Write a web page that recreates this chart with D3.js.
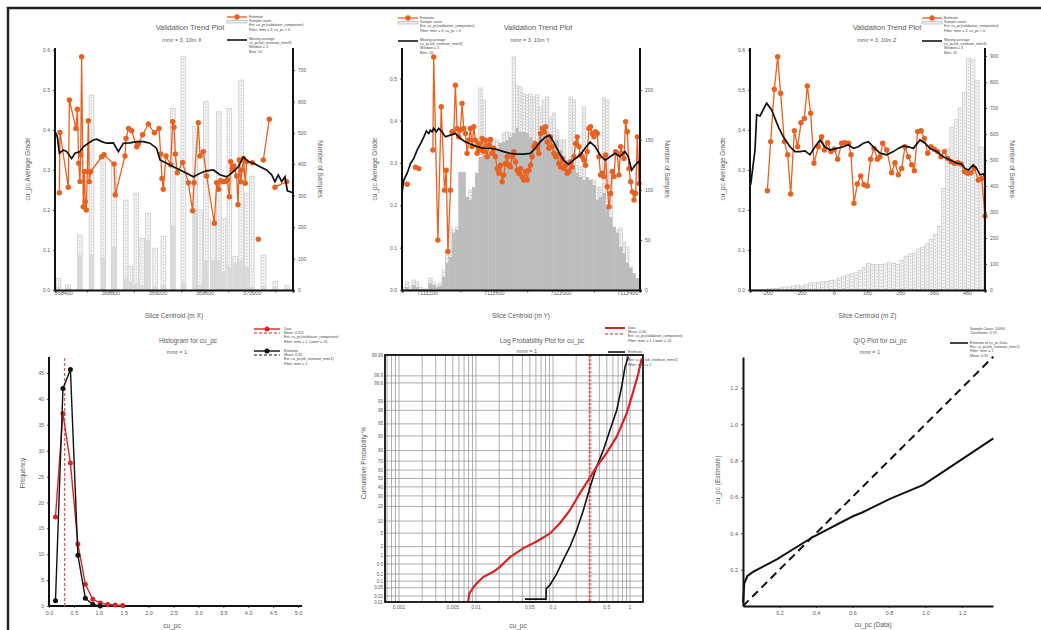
<!DOCTYPE html>
<html>
<head>
<meta charset="utf-8">
<script src="https://cdn.jsdelivr.net/npm/d3@7"></script>
<style>
body { margin: 0; background: #fff; }
svg text { font-family: "Liberation Sans", Arial, sans-serif; }
</style>
</head>
<body>
<script>
// ---- Validation trend, X slices ----
var xSlice = [368367,368372,368443,368452,368508,368520,368531,368542,368548,368556,368570,368579,368587,368596,368604,368613,368621,368633,368726,368746,368831,368842,368924,368933,368955,368981,369023,369037,369074,369122,369173,369213,369227,369238,369249,369272,369312,369329,369340,369351,369368,369413,369462,369498,369510,369546,369561,369589,369617,369682,369702,369719,369736,369753,369775,369793,369810,369821,369835,369849,369872,369883,369894,369906,369917,369931,369945,369957,370005,370030,370056,370077,370098,370149,370173,370197,370296];
var xGrade = [0.243,0.394,0.257,0.475,0.404,0.452,0.317,0.271,0.338,0.583,0.208,0.296,0.221,0.200,0.296,0.423,0.271,0.296,0.333,0.338,0.315,0.238,0.335,0.379,0.404,0.398,0.358,0.365,0.388,0.415,0.393,0.404,0.340,0.279,0.252,0.335,0.313,0.421,0.407,0.340,0.293,0.319,0.268,0.198,0.268,0.418,0.335,0.346,0.285,0.167,0.268,0.252,0.273,0.271,0.271,0.275,0.233,0.321,0.300,0.310,0.285,0.213,0.325,0.271,0.300,0.329,0.267,0.321,0.318,null,0.127,null,0.325,0.427,null,0.257,0.271];
var xMovSlice = [368330,368350,368367,368401,368429,368471,368500,368542,368570,368613,368655,368684,368726,368768,368825,368868,368910,368967,369023,369080,369136,369193,369221,369278,369334,369391,369447,369504,369561,369617,369674,369730,369787,369844,369886,369928,369971,370013,370070,370126,370169,370197,370225,370254,370282,370302,370350];
var xMovGrade = [0.396,0.383,0.342,0.350,0.346,0.329,0.342,0.346,0.358,0.367,0.375,0.377,0.371,0.367,0.368,0.346,0.367,0.368,0.371,0.371,0.367,0.354,0.325,0.317,0.308,0.300,0.292,0.283,0.292,0.298,0.300,0.288,0.283,0.296,0.308,0.332,0.321,0.317,0.308,0.300,0.288,0.271,0.288,0.271,0.283,0.248,0.243];
var xBinCentre = [368360,368440,368540,368640,368740,368830,368930,368970,369020,369070,369120,369180,369250,369330,369420,369520,369560,369610,369670,369720,369760,369810,369860,369910,369960,370000,370100,370200,370300];
var xBinSamples = [37,16,175,620,424,403,286,74,308,164,244,133,170,578,742,520,255,599,223,567,228,578,106,668,308,361,111,27,13];
var xBinEstimate = [11,8,111,111,104,138,37,27,21,16,159,11,16,207,27,255,16,95,95,95,60,75,85,95,75,11,11,11,0];

// ---- Validation trend, Y slices ----
var ySlice = [7111081,7111105,7111131,7111151,7111190,7111235,7111240,7111265,7111285,7111305,7111315,7111325,7111340,
  7111350,7111360,7111370,7111380,7111390,7111400,7111410,7111420,7111430,7111440,7111450,7111460,7111470,7111480,7111490,
  7111500,7111510,7111520,7111530,7111540,7111550,7111560,7111570,7111580,7111590,7111600,7111610,7111620,7111630,7111640,
  7111650,7111660,7111670,7111680,7111690,7111700,7111710,7111720,7111730,7111740,7111750,7111760,7111770,7111780,7111790,
  7111800,7111810,7111820,7111830,7111840,7111850,7111860,7111870,7111880,7111890,7111900,7111910,7111920,7111930,7111940,
  7111950,7111960,7111970,7111980,7111990,7112000,7112010,7112020,7112030,7112040,7112050,7112060,7112070,7112080,7112090,
  7112100,7112110,7112120,7112130,7112140,7112150,7112160,7112170,7112180,7112190,7112200,7112210,7112220,7112230,7112240,
  7112250,7112260,7112270,7112280,7112290,7112300,7112310,7112320,7112330,7112340,7112350,7112360,7112370,7112380,7112390,
  7112400,7112410,7112420,7112430,7112440,7112450,7112460,7112470];
var yGrade = [0.250,null,0.290,0.287,null,0.331,0.551,0.118,0.433,0.236,0.283,0.091,0.236,
  0.374,0.372,0.484,0.382,0.362,0.378,0.441,0.382,0.370,0.323,0.354,0.382,0.339,0.386,0.354,
  0.323,0.346,0.331,0.358,0.327,0.354,0.315,0.343,0.356,0.323,0.335,0.315,0.287,0.276,0.295,
  0.256,0.272,0.299,0.315,0.295,0.291,0.315,0.327,0.303,0.283,0.276,0.287,0.268,0.260,0.280,
  0.260,0.283,0.295,0.315,0.339,0.346,0.335,0.323,0.370,0.382,0.374,0.386,0.350,0.335,0.362,
  0.339,0.323,0.315,0.319,0.299,0.291,0.311,0.287,0.295,0.276,0.280,0.303,0.291,0.315,0.346,
  0.362,0.339,0.319,0.315,0.307,0.295,0.327,0.382,0.386,0.370,0.362,0.374,0.370,0.315,0.272,
  0.276,0.268,0.319,0.244,0.197,0.228,0.280,0.268,0.327,0.323,0.272,0.339,0.323,0.311,0.398,
  0.374,0.287,0.256,0.232,0.213,0.228,0.362,0.252];
var yMovSlice = [7111051,7111061,7111081,7111101,7111121,7111141,7111161,7111181,7111196,7111210,7111220,7111230,7111240,7111256,7111270,7111290,7111310,7111340,7111370,7111400,7111430,7111460,7111499,7111539,7111579,7111619,7111659,7111699,7111739,7111778,7111818,7111848,7111878,7111908,7111934,7111958,7111988,7112018,7112048,7112077,7112117,7112147,7112177,7112207,7112237,7112267,7112297,7112327,7112356,7112386,7112406,7112426,7112446,7112466,7112476];
var yMovGrade = [0.232,0.260,0.276,0.299,0.311,0.331,0.346,0.362,0.376,0.370,0.378,0.374,0.382,0.374,0.382,0.374,0.362,0.366,0.370,0.358,0.350,0.345,0.339,0.335,0.335,0.332,0.327,0.323,0.321,0.321,0.323,0.335,0.350,0.361,0.366,0.350,0.327,0.307,0.297,0.307,0.319,0.335,0.350,0.339,0.319,0.307,0.315,0.323,0.315,0.327,0.315,0.283,0.295,0.303,0.299];
var yBinCentre = [7111060,7111080,7111100,7111120,7111140,7111160,7111180,7111200,7111220,7111240,7111260,7111280,7111300,7111320,7111340,7111360,7111380,7111400,7111420,7111440,7111460,7111480,7111500,7111520,7111540,7111560,7111580,7111600,7111620,7111640,7111660,7111680,7111700,7111720,7111740,7111760,7111780,7111800,7111820,7111840,7111860,7111880,7111900,7111920,7111940,7111960,7111980,7112000,7112020,7112040,7112060,7112080,7112100,7112120,7112140,7112160,7112180,7112200,7112220,7112240,7112260,7112280,7112300,7112320,7112340,7112360,7112380,7112400,7112420,7112440,7112460];
var yBinSamples = [3,8,3,10,8,3,1,1,12,8,5,7,20,37,63,60,63,117,118,93,100,97,117,202,190,143,150,150,150,147,157,158,157,233,204,203,196,195,196,193,195,183,190,193,173,177,160,150,150,127,193,190,130,123,183,108,110,110,103,103,192,190,117,63,60,62,48,43,23,13,8];
var yBinEstimate = [1,3,1,5,3,1,1,1,7,5,3,4,13,27,33,57,60,118,117,93,90,103,117,133,135,138,143,143,142,147,148,150,153,157,162,158,158,157,153,150,147,157,162,158,147,143,150,140,133,130,123,122,117,113,110,113,110,105,90,93,97,83,73,63,57,43,37,27,22,17,12];

// ---- Validation trend, Z slices ----
var zSlice = [-199,-189,-178,-168,-159,-148,-138,-129,-118,-108,-98,-88,-79,-69,-59,-46,-36,-28,-18,-8,2,12,24,34,45,52,61,71,81,91,101,111,121,131,139,147,159,174,184,194,204,214,224,234,242,252,262,272,282,292,302,312,322,332,342,352,362,372,382,392,402,412,422,434,444,454];
var zGrade = [0.248,0.371,0.502,0.583,0.492,0.371,0.338,0.240,0.398,0.358,0.418,0.429,0.510,0.442,0.317,0.358,0.383,0.350,0.368,0.346,0.352,0.327,0.367,0.368,0.367,0.338,0.217,0.265,0.285,0.263,0.260,0.327,0.354,0.327,0.333,0.367,0.350,0.293,0.318,0.288,0.304,0.358,0.333,0.313,0.298,0.396,0.398,0.379,0.342,0.358,0.352,0.346,0.333,0.346,0.329,0.321,0.317,0.318,0.315,0.296,0.292,0.293,0.304,0.275,0.279,0.185];
var zMovSlice = [-249,-236,-231,-221,-201,-186,-166,-151,-131,-116,-101,-86,-71,-56,-41,-26,-11,9,29,44,59,74,89,104,119,139,159,179,194,209,224,239,259,274,289,309,329,349,369,384,394,404,419,429,439,449,454];
var zMovGrade = [0.263,0.350,0.438,0.435,0.467,0.450,0.408,0.383,0.358,0.346,0.346,0.348,0.338,0.358,0.375,0.358,0.350,0.354,0.358,0.363,0.354,0.358,0.367,0.371,0.358,0.342,0.338,0.346,0.354,0.360,0.358,0.354,0.375,0.367,0.354,0.346,0.333,0.325,0.317,0.315,0.304,0.300,0.313,0.304,0.288,0.290,0.283];
var zBinCentre = [-245,-232.5,-220,-207.5,-195,-182.5,-170,-157.5,-145,-132.5,-120,-107.5,-95,-82.5,-70,-57.5,-45,-32.5,-20,-7.5,5,17.5,30,42.5,55,67.5,80,92.5,105,117.5,130,142.5,155,167.5,180,192.5,205,217.5,230,242.5,255,267.5,280,292.5,305,317.5,330,342.5,355,367.5,380,392.5,405,417.5,430,442.5];
var zBinSamples = [1,2,2,3,4,5,6,8,12,11,15,18,14,20,26,28,30,31,33,36,38,45,52,58,62,66,75,88,103,98,99,97,100,105,102,98,113,130,138,141,158,165,178,195,215,245,390,545,625,655,700,760,890,885,805,550];

// ---- Histogram ----
var histBin = [0.13,0.28,0.43,0.58,0.73,0.88,1.03,1.18,1.33,1.48];
var histData = [17.2,37.2,27.6,12.0,4.2,1.3,0.6,0.3,0.2,0.1];
var histEst = [1.0,42.0,45.7,9.8,1.5,0.3,0.0];
var meanData = 0.31, meanEst = 0.32;

// ---- Log probability ----
var probDataCu = [0.0079,0.0082,0.0097,0.0124,0.0168,0.0205,0.0277,0.0412,0.0614,0.0914,0.123,0.166,0.224,0.288,0.369,0.498,0.672,0.906,1.10,1.28,1.42];
var probDataPct = [0.01,0.027,0.066,0.15,0.25,0.39,0.89,1.8,2.9,4.9,8.9,17,33,48,64,78,89.6,97.5,99.55,99.92,99.985];
var probEstCu = [0.0433,0.081,0.082,0.091,0.112,0.136,0.166,0.203,0.248,0.303,0.369,0.451,0.550,0.672,0.78,0.861,0.95];
var probEstPct = [0.014,0.014,0.047,0.066,0.21,0.71,2.0,6.0,17,40,64,80.5,92.8,98.0,99.72,99.96,99.988];
var probTicks = [0.01,0.02,0.05,0.1,0.2,0.5,1,2,5,10,20,30,40,50,60,70,80,90,95,98,99,99.8,99.9,99.99];
var probCuTicks = [0.001,0.005,0.01,0.05,0.1,0.5,1];
var probMeans = [0.296,0.31];

// ---- Q/Q ----
var qqDataCu = [0,0.007,0.024,0.057,0.185,0.385,0.605,0.650,0.805,0.988,1.098,1.372];
var qqEstCu = [0.02,0.125,0.165,0.189,0.257,0.381,0.495,0.513,0.589,0.666,0.739,0.922];
var qqRef = [0,1.372];

var ORANGE = '#e8611e', RED = '#d42626', TXT = '#5a5a5a';

var svg = d3.select('body').append('svg').attr('width', 1041).attr('height', 630);
svg.append('rect').attr('width', 1041).attr('height', 630).attr('fill', '#fff');
svg.append('rect').attr('x', 8).attr('y', 8).attr('width', 1050).attr('height', 650)
    .attr('fill', 'none').attr('stroke', '#222').attr('stroke-width', 2.5);

function label(g, x, y, txt, size, rot, anchor) {
    var t = g.append('text').attr('x', x).attr('y', y).text(txt)
        .attr('font-size', size).attr('fill', TXT)
        .attr('text-anchor', anchor || 'middle');
    if (rot) t.attr('transform', 'rotate(' + rot + ',' + x + ',' + y + ')');
    return t;
}

function styleAxis(a, fs) {
    a.attr('color', '#333');
    a.select('.domain').attr('stroke', '#111').attr('stroke-width', 2);
    a.selectAll('.tick line').attr('stroke', '#222').attr('stroke-width', 0.8);
    a.selectAll('text').attr('font-size', fs).attr('fill', TXT).attr('font-family', '"Liberation Sans", Arial, sans-serif');
}

function legendBlock(g, x, y, lines) {
    lines.forEach(function(s, i) {
        g.append('text').attr('x', x).attr('y', y + i * 4.2).text(s)
            .attr('font-size', 3.6).attr('fill', '#444');
    });
}

function trendPanel(o) {
    var g = svg.append('g');
    var x = d3.scaleLinear().domain(o.xDomain).range([o.left, o.right]);
    var y = d3.scaleLinear().domain(o.yDomain).range([o.bottom, o.top]);
    var y2 = d3.scaleLinear().domain(o.y2Domain).range([o.bottom, o.top]);

    var bins = d3.zip(o.binX, o.binA);
    g.selectAll('rect.samp').data(bins).enter().append('rect')
        .attr('x', function(d) { return x(d[0] - o.binW / 2); })
        .attr('width', function(d) { return x(d[0] + o.binW / 2) - x(d[0] - o.binW / 2); })
        .attr('y', function(d) { return y2(d[1]); })
        .attr('height', function(d) { return o.bottom - y2(d[1]); })
        .attr('fill', '#f4f4f4').attr('stroke', '#c4c4c4').attr('stroke-width', 0.7);
    g.selectAll('line.dots').data(bins).enter().append('line')
        .attr('x1', function(d) { return x(d[0]); }).attr('x2', function(d) { return x(d[0]); })
        .attr('y1', function(d) { return y2(d[1]) + 2; }).attr('y2', o.bottom)
        .attr('stroke', '#a9a9a9').attr('stroke-width', 0.9).attr('stroke-dasharray', '0.9,2.3');

    if (o.binB) {
        g.selectAll('rect.est').data(d3.zip(o.binX, o.binB)).enter().append('rect')
            .attr('x', function(d) { return x(d[0] - o.binW / 2); })
            .attr('width', function(d) { return x(d[0] + o.binW / 2) - x(d[0] - o.binW / 2); })
            .attr('y', function(d) { return y2(d[1]); })
            .attr('height', function(d) { return o.bottom - y2(d[1]); })
            .attr('fill', o.bFill);
    }

    var pts = d3.zip(o.ptX, o.ptG);
    var line = d3.line().defined(function(d) { return d[1] != null; })
        .x(function(d) { return x(d[0]); }).y(function(d) { return y(d[1]); });
    g.append('path').datum(pts).attr('d', line)
        .attr('fill', 'none').attr('stroke', ORANGE).attr('stroke-width', 1.3);
    g.selectAll('circle').data(pts.filter(function(d) { return d[1] != null; })).enter().append('circle')
        .attr('cx', function(d) { return x(d[0]); }).attr('cy', function(d) { return y(d[1]); })
        .attr('r', 2.7).attr('fill', ORANGE);

    g.append('path').datum(d3.zip(o.movX, o.movG)).attr('d', d3.line()
            .x(function(d) { return x(d[0]); }).y(function(d) { return y(d[1]); }))
        .attr('fill', 'none').attr('stroke', '#111').attr('stroke-width', 1.7);

    var ax = g.append('g').attr('transform', 'translate(0,' + o.bottom + ')')
        .call(d3.axisBottom(x).tickValues(o.xTicks).tickSizeOuter(0).tickSize(2.5)
            .tickFormat(function(v) { return o.xLabel(v) ? String(v) : ''; }));
    styleAxis(ax, 5.5);
    ax.selectAll('text').attr('dy', '-0.1em');
    var al = g.append('g').attr('transform', 'translate(' + o.left + ',0)')
        .call(d3.axisLeft(y).tickValues(o.yTicks).tickSizeOuter(0).tickSize(2).tickFormat(d3.format('.1f')));
    styleAxis(al, 5);
    var ar = g.append('g').attr('transform', 'translate(' + o.right + ',0)')
        .call(d3.axisRight(y2).tickValues(o.y2Ticks).tickSizeOuter(0).tickSize(2).tickFormat(d3.format('d')));
    styleAxis(ar, 5);
    al.select('.domain').attr('d', 'M0,' + o.bottom + 'V' + o.top);
    ar.select('.domain').attr('d', 'M0,' + o.bottom + 'V' + o.top);

    label(g, o.titleX, 30, 'Validation Trend Plot', 7.5);
    label(g, o.subX, 42, o.sub, 5.5);
    label(g, (o.left + o.right) / 2, 318, o.xTitle, 6.5);
    label(g, o.left - 25, (o.top + o.bottom) / 2, 'cu_pc Average Grade', 6.5, -90);
    label(g, o.right + 25, (o.top + o.bottom) / 2, 'Number of Samples', 6.5, 90);

    // legend
    var lx = o.legX, ly = o.legY;
    g.append('line').attr('x1', lx).attr('x2', lx + 20).attr('y1', ly).attr('y2', ly)
        .attr('stroke', ORANGE).attr('stroke-width', 1.3);
    g.append('circle').attr('cx', lx + 10).attr('cy', ly).attr('r', 2.7).attr('fill', ORANGE);
    g.append('rect').attr('x', lx).attr('y', ly + 3.5).attr('width', 20).attr('height', 2.5)
        .attr('fill', '#eee').attr('stroke', '#aaa').attr('stroke-width', 0.6);
    legendBlock(g, lx + 22, ly + 1, ['Estimate', 'Sample count', 'Est: cu_pc(validation_composites)', 'Filter: mmr = 3, cu_pc > 0']);
    g.append('line').attr('x1', lx).attr('x2', lx + 20).attr('y1', ly + 23).attr('y2', ly + 23)
        .attr('stroke', '#111').attr('stroke-width', 1.6);
    legendBlock(g, lx + 22, ly + 23, ['Moving average', 'cu_pc(ok_estimate_mmr3)', 'Window = 3', 'Bins: 10']);
}

trendPanel({
    left: 55, right: 293, top: 48, bottom: 290,
    xDomain: [368330, 370350], yDomain: [0, 0.605], y2Domain: [0, 770],
    binX: xBinCentre, binA: xBinSamples, binB: xBinEstimate, binW: 40, bFill: '#dadada',
    ptX: xSlice, ptG: xGrade, movX: xMovSlice, movG: xMovGrade,
    xTicks: d3.range(368400, 370201, 200), xLabel: function(v) { return (v - 368400) % 400 === 0; },
    yTicks: [0, 0.1, 0.2, 0.3, 0.4, 0.5, 0.6], y2Ticks: d3.range(0, 701, 100),
    titleX: 190, subX: 182, sub: 'mmr = 3, 10m X', xTitle: 'Slice Centroid (m X)',
    legX: 227, legY: 17
});
trendPanel({
    left: 402, right: 640, top: 48, bottom: 290,
    xDomain: [7111050, 7112476], yDomain: [0, 0.572], y2Domain: [0, 242],
    binX: yBinCentre, binA: yBinSamples, binB: yBinEstimate, binW: 20, bFill: '#bcbcbc',
    ptX: ySlice, ptG: yGrade, movX: yMovSlice, movG: yMovGrade,
    xTicks: d3.range(7111200, 7112401, 200), xLabel: function(v) { return (v - 7111200) % 400 === 0; },
    yTicks: [0, 0.1, 0.2, 0.3, 0.4, 0.5], y2Ticks: [0, 50, 100, 150, 200],
    titleX: 538, subX: 530, sub: 'mmr = 3, 10m Y', xTitle: 'Slice Centroid (m Y)',
    legX: 398, legY: 18
});
trendPanel({
    left: 750, right: 985, top: 48, bottom: 290,
    xDomain: [-251, 454], yDomain: [0, 0.605], y2Domain: [0, 931],
    binX: zBinCentre, binA: zBinSamples, binB: null, binW: 12.5,
    ptX: zSlice, ptG: zGrade, movX: zMovSlice, movG: zMovGrade,
    xTicks: d3.range(-200, 401, 100), xLabel: function() { return true; },
    yTicks: [0, 0.1, 0.2, 0.3, 0.4, 0.5, 0.6], y2Ticks: d3.range(0, 901, 100),
    titleX: 887, subX: 877, sub: 'mmr = 3, 10m Z', xTitle: 'Slice Centroid (m Z)',
    legX: 922, legY: 18
});

// ---------- Histogram ----------
(function() {
    var g = svg.append('g');
    var x = d3.scaleLinear().domain([0, 5]).range([49, 298]);
    var y = d3.scaleLinear().domain([0, 48.1]).range([606, 357]);
    var ax = g.append('g').attr('transform', 'translate(0,606)')
        .call(d3.axisBottom(x).tickValues(d3.range(0, 5.01, 0.5)).tickSize(2).tickSizeOuter(0).tickFormat(d3.format('.1f')));
    styleAxis(ax, 5.5);
    ax.select('.domain').attr('d', 'M49,0H302');
    var ay = g.append('g').attr('transform', 'translate(49,0)')
        .call(d3.axisLeft(y).tickValues(d3.range(0, 46, 5)).tickSize(2).tickSizeOuter(0));
    styleAxis(ay, 5);
    ay.select('.domain').attr('d', 'M0,606V357');

    [meanData, meanEst].forEach(function(m, i) {
        g.append('line').attr('x1', x(m)).attr('x2', x(m)).attr('y1', 606).attr('y2', 357)
            .attr('stroke', i ? '#d88' : RED).attr('stroke-width', 1).attr('stroke-dasharray', '3,2');
    });
    var ser = [[histData, RED], [histEst, '#111']];
    ser.forEach(function(s) {
        var pts = d3.zip(histBin, s[0]);
        g.append('path').datum(pts).attr('d', d3.line()
                .x(function(d) { return x(d[0]); }).y(function(d) { return y(d[1]); }))
            .attr('fill', 'none').attr('stroke', s[1]).attr('stroke-width', 1.4);
        g.selectAll(null).data(pts).enter().append('circle')
            .attr('cx', function(d) { return x(d[0]); }).attr('cy', function(d) { return y(d[1]); })
            .attr('r', 2.5).attr('fill', s[1]);
    });
    label(g, 188, 343, 'Histogram for cu_pc', 6.5);
    label(g, 177, 354, 'mmr = 1', 5.5);
    label(g, 172, 628, 'cu_pc', 6.5);
    label(g, 25, 473, 'Frequency', 6.5, -90);
    // legend
    [[RED, 329, ['Data', 'Mean: 0.311', 'Est: cu_pc(validation_composites)', 'Filter: mmr = 1, Lower = 10']],
     ['#111', 351, ['Estimate', 'Mean: 0.32', 'Est: cu_pc(ok_estimate_mmr1)', 'Filter: mmr = 1']]].forEach(function(l) {
        g.append('line').attr('x1', 254).attr('x2', 280).attr('y1', l[1]).attr('y2', l[1]).attr('stroke', l[0]).attr('stroke-width', 1.4);
        g.append('circle').attr('cx', 267).attr('cy', l[1]).attr('r', 2.5).attr('fill', l[0]);
        g.append('line').attr('x1', 254).attr('x2', 280).attr('y1', l[1] + 4).attr('y2', l[1] + 4)
            .attr('stroke', l[0]).attr('stroke-width', 1).attr('stroke-dasharray', '3,2');
        legendBlock(g, 284, l[1] + 1, l[2]);
    });
})();

// ---------- Log probability ----------
function probit(p) {
    var a = [-3.969683028665376e+01, 2.209460984245205e+02, -2.759285104469687e+02, 1.383577518672690e+02, -3.066479806614716e+01, 2.506628277459239e+00];
    var b = [-5.447609879822406e+01, 1.615858368580409e+02, -1.556989798598866e+02, 6.680131188771972e+01, -1.328068155288572e+01];
    var c = [-7.784894002430293e-03, -3.223964580411365e-01, -2.400758277161838e+00, -2.549732539343734e+00, 4.374664141464968e+00, 2.938163982698783e+00];
    var d = [7.784695709041462e-03, 3.224671290700398e-01, 2.445134137142996e+00, 3.754408661907416e+00];
    var q, r;
    if (p < 0.02425) {
        q = Math.sqrt(-2 * Math.log(p));
        return (((((c[0] * q + c[1]) * q + c[2]) * q + c[3]) * q + c[4]) * q + c[5]) / ((((d[0] * q + d[1]) * q + d[2]) * q + d[3]) * q + 1);
    }
    if (p > 1 - 0.02425) return -probit(1 - p);
    q = p - 0.5; r = q * q;
    return (((((a[0] * r + a[1]) * r + a[2]) * r + a[3]) * r + a[4]) * r + a[5]) * q / (((((b[0] * r + b[1]) * r + b[2]) * r + b[3]) * r + b[4]) * r + 1);
}

(function() {
    var g = svg.append('g');
    var L = 385, R = 643, T = 355, B = 602;
    var x = d3.scaleLog().domain([0.000658, 1.475]).range([L, R]);
    var z = d3.scaleLinear().domain([probit(0.0001), probit(0.9999)]).range([B, T]);
    var y = function(p) { return z(probit(p / 100)); };

    var vgrid = [];
    [-4, -3, -2, -1, 0].forEach(function(e) {
        d3.range(1, 10).forEach(function(m) {
            var v = m * Math.pow(10, e);
            if (v > 0.000658 && v < 1.475) vgrid.push(v);
        });
    });
    g.selectAll('line.vg').data(vgrid).enter().append('line')
        .attr('x1', function(d) { return x(d); }).attr('x2', function(d) { return x(d); })
        .attr('y1', T).attr('y2', B).attr('stroke', '#999').attr('stroke-width', 0.8);
    g.selectAll('line.hg').data(probTicks).enter().append('line')
        .attr('x1', L).attr('x2', R)
        .attr('y1', function(d) { return y(d); }).attr('y2', function(d) { return y(d); })
        .attr('stroke', '#999').attr('stroke-width', 0.8);

    probMeans.forEach(function(m, i) {
        g.append('line').attr('x1', x(m)).attr('x2', x(m)).attr('y1', T).attr('y2', B)
            .attr('stroke', i ? '#e08888' : '#d44').attr('stroke-width', 1.2).attr('stroke-dasharray', '2.5,1.5');
    });

    var line = d3.line().x(function(d) { return x(d[0]); }).y(function(d) { return y(d[1]); });
    g.append('path').datum(d3.zip(probEstCu, probEstPct)).attr('d', line)
        .attr('fill', 'none').attr('stroke', '#111').attr('stroke-width', 1.6);
    g.append('path').datum(d3.zip(probDataCu, probDataPct)).attr('d', line)
        .attr('fill', 'none').attr('stroke', RED).attr('stroke-width', 2.2);

    g.append('rect').attr('x', L).attr('y', T).attr('width', R - L).attr('height', B - T)
        .attr('fill', 'none').attr('stroke', '#111').attr('stroke-width', 1.8);

    g.selectAll('text.py').data(probTicks).enter().append('text')
        .attr('x', L - 2).attr('y', function(d) { return y(d) + 1.6; })
        .attr('text-anchor', 'end').attr('font-size', 4.5).attr('fill', TXT)
        .text(function(d) { return String(d); });
    g.selectAll('text.px').data(probCuTicks).enter().append('text')
        .attr('x', function(d) { return x(d); }).attr('y', 609)
        .attr('text-anchor', 'middle').attr('font-size', 5).attr('fill', TXT)
        .text(function(d) { return String(d); });

    label(g, 542, 343, 'Log Probability Plot for cu_pc', 6.5);
    label(g, 527, 353, 'mmr = 1', 5.5);
    label(g, 518, 628, 'cu_pc', 6.5);
    label(g, 366, 463, 'Cumulative Probability %', 6.5, -90);

    g.append('line').attr('x1', 605).attr('x2', 625).attr('y1', 328).attr('y2', 328).attr('stroke', RED).attr('stroke-width', 2);
    g.append('line').attr('x1', 605).attr('x2', 625).attr('y1', 334).attr('y2', 334).attr('stroke', RED).attr('stroke-width', 1.2).attr('stroke-dasharray', '3,2');
    legendBlock(g, 628, 329, ['Data', 'Mean: 0.30', 'Est: cu_pc(validation_composites)', 'Filter: mmr = 1, Lower = 10']);
    g.append('line').attr('x1', 608).attr('x2', 625).attr('y1', 352).attr('y2', 352).attr('stroke', '#111').attr('stroke-width', 1.6);
    legendBlock(g, 628, 353, ['Estimate', '', 'Est: cu_pc(ok_estimate_mmr1)', 'Filter: mmr = 1']);
})();

// ---------- Q/Q ----------
(function() {
    var g = svg.append('g');
    var x = d3.scaleLinear().domain([0, 1.37]).range([743, 993]);
    var y = d3.scaleLinear().domain([0, 1.37]).range([606, 357]);
    g.append('path').datum(d3.zip(qqRef, qqRef)).attr('d', d3.line()
            .x(function(d) { return x(d[0]); }).y(function(d) { return y(d[1]); }))
        .attr('stroke', '#111').attr('stroke-width', 2).attr('stroke-dasharray', '8,5').attr('fill', 'none');
    g.append('path').datum(d3.zip(qqDataCu, qqEstCu)).attr('d', d3.line()
            .x(function(d) { return x(d[0]); }).y(function(d) { return y(d[1]); }))
        .attr('stroke', '#111').attr('stroke-width', 2).attr('fill', 'none');
    var ticks = [0.2, 0.4, 0.6, 0.8, 1.0, 1.2];
    var ax = g.append('g').attr('transform', 'translate(0,606)')
        .call(d3.axisBottom(x).tickValues(ticks).tickSize(2).tickSizeOuter(0).tickFormat(d3.format('.1f')));
    styleAxis(ax, 5.5);
    var ay = g.append('g').attr('transform', 'translate(743,0)')
        .call(d3.axisLeft(y).tickValues(ticks).tickSize(2).tickSizeOuter(0).tickFormat(d3.format('.1f')));
    styleAxis(ay, 5.5);
    label(g, 880, 343, 'Q/Q Plot for cu_pc', 6.5);
    label(g, 870, 354, 'mmr = 1', 5.5);
    label(g, 873, 627, 'cu_pc (Data)', 6.5);
    label(g, 720, 480, 'cu_pc (Estimate)', 6.5, -90);
    legendBlock(g, 970, 330, ['Sample Count: 10094', 'Correlation: 0.73']);
    g.append('line').attr('x1', 950).attr('x2', 968).attr('y1', 343).attr('y2', 343).attr('stroke', '#111').attr('stroke-width', 1.6);
    legendBlock(g, 970, 344, ['Estimate of cu_pc Data', 'Est: cu_pc(ok_estimate_mmr1)', 'Filter: mmr = 1', 'Mean: 0.31']);
})();
</script>
</body>
</html>
